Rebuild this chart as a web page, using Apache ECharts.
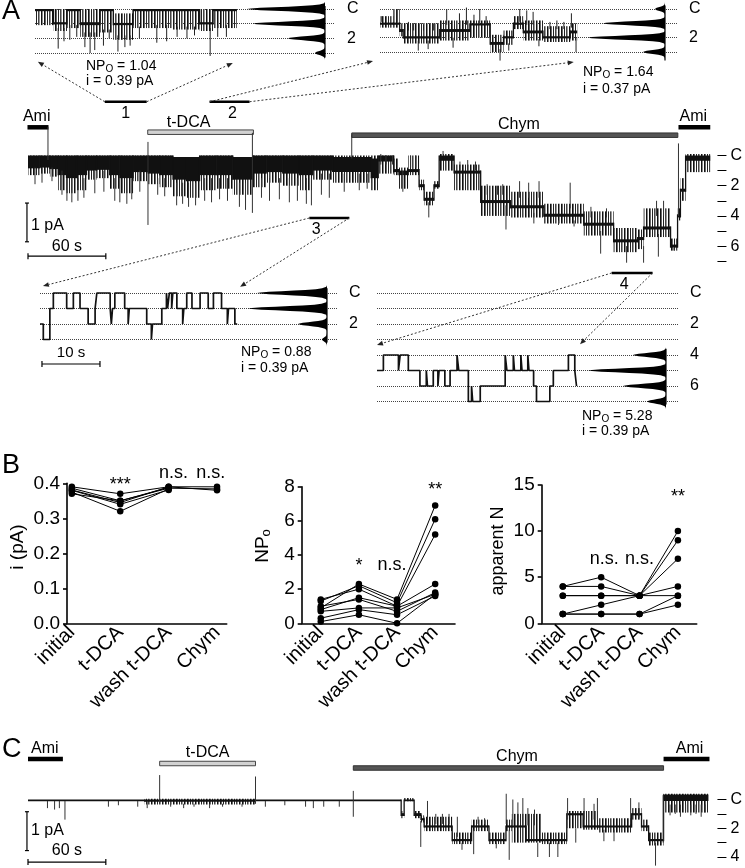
<!DOCTYPE html>
<html>
<head>
<meta charset="utf-8">
<title>Single-channel recordings</title>
<script src="https://cdn.jsdelivr.net/npm/echarts@6.0.0/dist/echarts.min.js"></script>
<style>
html,body{margin:0;padding:0;background:#fff;}
#chart{width:745px;height:868px;}
</style>
</head>
<body>
<div id="chart"></div>
<script>
// ======================= DATA =======================
// ---- Panel B ----
const categories = ['initial', 't-DCA', 'wash t-DCA', 'Chym'];
const iValues = [            // single-channel current i (pA), one row per patch
  [0.390, 0.370, 0.390, 0.390],
  [0.386, 0.350, 0.386, 0.384],
  [0.381, 0.345, 0.390, 0.380],
  [0.380, 0.340, 0.381, null],
  [0.375, 0.320, 0.384, null],
  [0.370, 0.350, 0.388, null]
];
const npoValues = [          // NPo
  [0.9, 2.3, 1.4, 6.9],
  [1.3, 2.2, 1.2, 6.1],
  [1.4, 2.0, 1.0, 5.2],
  [0.8, 1.5, 1.0, 2.3],
  [1.0, 1.4, 0.7, 1.8],
  [0.7, 0.9, 0.9, 1.7],
  [0.3, 0.8, 0.5, 1.6],
  [0.1, 0.5, 0.0, 1.7]
];
const nValues = [            // apparent N
  [4, 5, 3, 10],
  [4, 4, 3, 9],
  [3, 3, 3, 7],
  [3, 3, 3, 4],
  [1, 2, 3, 3],
  [1, 1, 1, 3],
  [1, 1, 1, 2]
];
const sigMarks = [           // [plot, category position, value, text]
  [0, 1, 0.395, '***'], [0, 2.1, 0.429, 'n.s.'], [0, 2.87, 0.429, 'n.s.'],
  [1, 1, 3.36, '*'], [1, 1.87, 3.41, 'n.s.'], [1, 3, 7.8, '**'],
  [2, 1.08, 6.97, 'n.s.'], [2, 2.0, 6.97, 'n.s.'], [2, 3, 13.7, '**']
];

// ---- Panel A main trace (time s, level = open channels, C = 0) ----
// bands: [t0, t1, flicker upper, flicker lower, dwell upper, dwell lower] (levels)
const mainBands = [
  [0,9.2,0,1.3,0,0.85],[9.2,16.9,0,1.2,0,0.8],[16.9,23.3,0,1.4,0,0.9],[23.3,29.7,0,2.3,0,1.3],
  [29.7,37.4,0,2.5,0,1.5],[37.4,45.1,0,2.3,0,1.3],[45.1,52.8,0,1.6,0,1.0],[52.8,63,0,1.5,0,0.95],
  [63,70.8,0,2.2,0,1.3],[70.8,81,0,2.5,0,1.5],[81,92.6,0,1.7,0,1.1],[92.6,101.5,0,1.9,0,1.2],
  [101.5,111.8,0,2.1,0,1.3],[111.8,122.1,0.1,2.7,0.1,1.6],[122.1,132.3,0.1,2.8,0.1,1.7],
  [132.3,145.1,0,2.3,0,1.3],[145.1,157.9,0,2.2,0,1.3],[157.9,173.3,0.1,2.6,0.1,1.6],
  [173.3,183.6,0,2.1,0,1.2],[183.6,196.4,0,1.8,0,1.1],[196.4,209.2,0,2.0,0,1.2],
  [209.2,219.5,0,2.3,0,1.3],[219.5,234.9,0,1.6,0,1.0],[234.9,264.6,0,1.8,0.1,1.1],
  [264.6,270,0,2.3,0.2,1.5],
  [270,282,0,1.2,0,0.4],[282,286,0.2,1.3,0.9,1.1],[286,293,0.8,2.2,1.0,1.3],[293,301.5,0,1.3,0.9,1.1],
  [301.5,305.4,1.6,2.3,1.9,2.1],[305.4,313,2.4,3.3,2.8,3.0],[313,317,1.7,2.2,1.9,2.1],
  [317,328.5,-0.1,1.0,0,0.35],[328.5,349,0.6,2.3,1.0,1.2],[349,372,2.0,4.0,2.95,3.15],
  [372,397.7,2.4,4.1,3.3,3.5],[397.7,428.5,3.2,4.5,3.85,4.05],[428.5,451.5,3.7,5.3,4.45,4.65],
  [451.5,470,4.8,6.4,5.55,5.75],[470,474.6,4.9,6.2,5.4,5.6],[474.6,495.4,3.5,5.4,4.7,4.9],
  [495.4,500.8,5.5,6.3,5.9,6.1],[500.8,503,3.5,4.3,3.9,4.1],[503,507,1.5,3.0,2.2,2.4],
  [507,526,-0.1,1.1,0,0.35]
];
// spikes: [t, from level, to level]
const mainSpikes = [
  [15.4,-1.9,0.3],[92.5,-0.9,4.6],[173,-1.5,3.8],[249.6,-1.4,0.2],[501.5,-0.8,4.0],
  [5.4,0.8,1.9],[10.8,0.8,1.8],[18.5,0.8,1.7],[26.2,1,2.6],[30,1.5,3.0],[33.8,1.5,3.1],[38.5,1.5,3.0],
  [43.1,1.5,2.8],[51.5,1,2.5],[58.5,1,2.4],[66.9,1.5,3.0],[70.8,1.5,3.1],[76.2,1.5,3.2],[80,1.5,2.9],
  [86.2,1,2.4],[100,1.5,2.6],[105.4,1.5,2.7],[114.6,1.8,3.3],[119.2,1.8,3.2],[123.8,1.8,3.4],
  [129.2,1.8,3.3],[136.2,1.5,3.0],[141.5,1.5,3.1],[147.7,1.5,2.9],[153.8,1.5,3.0],[163,1.8,3.4],
  [167.7,1.8,3.6],[180,1.5,2.8],[186.2,1.5,3.0],[193.8,1.5,2.9],[201.5,1.5,3.1],[207.7,1.5,3.0],
  [214.6,1.5,3.2],[218.5,1.5,3.3],[226.2,1.2,2.6],[232.3,1.2,2.8],[243.8,1.2,2.4],[255.4,1.2,2.3],
  [261.5,1.2,2.2],
  [272,0.6,-0.1],[276,0.6,0],[281,0.6,0],[289,1,2.4],[295,0.8,0],[299,0.8,0],[309,3.1,4.1],
  [320,0,-0.3],[333,1,0.4],[339,1,0.3],[345,1,0.4],[354,2.6,1.9],[362,2.6,2.0],[366,2.6,1.9],
  [368.5,3.3,4.9],[379,2.8,1.7],[386,2.8,1.8],[390,3.8,4.5],[394,2.8,1.7],[409,4.3,4.6],
  [418,3.5,1.8],[421,4.3,4.7],[434,4.1,3.4],[441.5,5.0,6.5],[446,4.1,3.5],[461.5,6.0,7.1],
  [474.6,6.0,7.1],[484.6,4.0,3.0],[486,5.2,6.7],[490,4.0,3.0],[498,6.1,6.3]
];

// ---- Inset 1 (segment 1) ----
const ins1Bands = [
  [0,3.2,0,1.1,0,0.15],[3.2,5.5,0,1.5,0.9,1.05],[5.5,7.8,0,1.3,0,0.15],[7.8,11.2,0,1.9,0.9,1.1],
  [11.2,13.5,0,1.6,0,0.15],[13.5,16.9,0.3,2.1,0.95,1.1],[16.9,19.3,0,1.3,0,0.15],[19.3,23.8,0,1.3,0,0.15],
  [23.8,28.4,0,1.4,0,0.15],[28.4,30.7,0,1.5,0.9,1.05],[30.7,34.8,0,1.3,0,0.15]
];
const ins1Spikes = [
  [4,1.3,2.7],[5,1.3,2.2],[6,1.1,2.1],[7.2,1.1,1.9],[8.6,1.6,2.6],[9.5,1.6,3.0],[10.3,1.6,2.8],
  [11.8,1.4,2.5],[12.8,1.4,2.0],[14.3,1.8,2.9],[15.5,1.8,2.6],[16.4,1.8,2.5],[18,1.2,2.0],
  [21,1.1,2.3],[22.7,1.1,2.2],[24.5,1.2,1.9],[26.2,1.2,2.0],[27.5,1.2,1.8],[30.2,1.3,3.2],
  [31.5,1.1,1.9],[33,1.1,1.9]
];
const ins1Hist = [78, 72, 37, 10];       // levels C,1,2,3

// ---- Inset 2 (segment 2) ----
const ins2Bands = [
  [0,2.3,0.5,1.3,0.95,1.1],[2.3,3.4,0,1.3,0.95,1.1],[3.4,4,1.0,1.9,1.4,1.6],[4,10.3,1.0,2.4,1.9,2.05],
  [10.3,15.5,0.8,2.2,1.4,1.6],[15.5,19,0.8,2.0,1.0,1.15],[19,21.3,1.8,3.0,2.3,2.5],[21.3,23,1.5,2.5,1.9,2.05],
  [23,24.7,0.5,1.4,0.95,1.1],[24.7,28.1,0.8,2.2,1.5,1.7],[28.1,32.8,1.2,2.3,1.9,2.05],[32.8,34,1.0,2.2,1.5,1.7]
];
const ins2Spikes = [
  [0.3,0.9,0.5],[2.9,0.9,0],[4.9,1.5,0.9],[5.8,1.5,1.0],[6.6,2.2,2.9],[7.5,1.5,1.1],[8.3,2.2,2.8],
  [9.2,1.5,1.0],[11.5,1.1,0],[12.6,2.0,2.7],[13.7,1.1,0.3],[14.9,1.1,-0.1],[16.2,1.0,0.4],
  [17.2,1.0,0],[18.3,1.0,0.5],[20.7,2.8,3.6],[22.2,2.4,2.9],[24.1,0.9,0],[25.3,1.1,0.1],
  [26.4,1.1,0.2],[27.4,2.1,2.6],[29.3,1.4,0.9],[30.5,1.4,0.8],[31.7,1.4,0.9],[33,1.3,0.3],[33.8,2.0,3.0]
];
const ins2Hist = [10, 62, 77, 22];

// ---- Inset 3 (segment 3), step trace ----
const ins3Time  = [0,0.57,1.7,2.3,4.6,5.75,6.9,8.3,9.5,9.8,12.1,12.3,12.5,12.9,14.6,15.2,15.4,18.4,19.2,19.4,21.0,21.8,22.0,22.3,22.7,22.9,23.6,24.6,24.8,25.3,26.2,27.6,29.0,29.9,31.3,32.3,32.5,33.6,34.0];
const ins3Level = [2,3,1,0,1,0,1,2,1,0,1,2,1,0,1,2,1,2,3,2,1,0,1,0,1,0,1,2,1,0,1,0,1,0,1,2,1,2,2];
const ins3Hist = [70, 79, 29, 5];

// ---- Inset 4 (segment 4), step trace ----
const ins4Time  = [0,1.1,3.7,4.0,5.4,7.4,8.5,8.7,9.7,10.5,10.7,11.7,12.6,13.8,14.1,15.75,16.3,16.5,17.8,22.1,22.4,23.5,23.7,24.8,25.0,26.0,26.2,27.0,27.5,29.8,30.4,32.1,33.0,34.1,34.4];
const ins4Level = [5,4,5,4,5,6,5,6,5,6,5,6,5,4,5,7,6,7,6,4,5,4,5,4,5,4,5,6,7,6,5,5,4,5,6];
const ins4Hist = [33, 78, 43, 19];       // levels 4,5,6,7

// ---- Panel C trace ----
const cBands = [
  [0,90,0,0.12,0,0.12],[90,175,-0.05,0.35,0,0.15],[175,287.7,0,0.12,0,0.12],[287.7,290,0.8,1.3,0.95,1.15],
  [290,297.7,-0.1,0.12,0,0.12],[297.7,303,0.8,1.3,0.95,1.15],[303,305.4,1.1,1.6,1.3,1.45],
  [305.4,327,1.2,2.2,1.8,1.95],[327,342,2.3,3.1,2.75,2.9],[342,355.4,1.4,2.2,1.8,1.95],
  [355.4,368.5,2.3,3.1,2.75,2.9],[368.5,373,1.4,2.2,1.8,1.95],[373,384,1.0,3.0,1.8,1.95],
  [384,396,1.0,3.0,2.75,2.9],[396,415.4,2.3,3.1,2.75,2.9],[415.4,428,0.8,2.0,0.95,1.1],
  [428,440,0.8,2.1,1.8,1.95],[440,465.4,1.3,2.3,1.8,1.95],[465.4,473,0.6,1.4,0.95,1.1],
  [473,478.5,1.4,2.2,1.8,1.95],[478.5,490,2.3,3.2,2.75,2.9],[490,524.6,-0.4,0.9,-0.35,0.1]
];
const cSpikes = [
  [15,0.1,0.6],[20.5,0.1,0.7],[24.2,0.1,0.6],[28.5,0.1,1.4],[62,0.1,0.5],[69.7,0.1,0.4],[84.6,0.1,0.5],
  [91.9,0.1,0.6],[101.5,-1.7,0.3],[110,0.3,0.5],[120,0.3,0.6],[128,0.3,0.5],[140,0.3,0.6],[150,0.3,0.5],
  [165,0.3,0.5],[175.4,-1.6,0.3],[183,0.1,0.5],[198,0.1,0.4],[214,0.1,0.5],[220,0.1,0.6],[228,0.1,0.5],
  [240,0.1,0.5],[250.8,-0.6,1.2],
  [302.8,1.5,3.3],[308,1.7,0.1],[314.4,1.7,1.0],[319.5,1.7,1.0],[324.6,1.7,1.0],[331,2.6,1.2],
  [334.6,3.0,3.5],[343.6,2.1,3.8],[347,1.7,1.2],[352,1.7,1.3],[361,3.0,3.4],[368.7,1.7,-0.4],
  [371,2.1,4.2],[373.8,1.8,0.0],[377.7,1.8,0.2],[381.5,1.8,-0.1],[385.4,1.8,0.6],[390.5,1.8,0.7],
  [393,3.0,4.0],[402,3.0,4.0],[408.5,3.0,4.0],[416,1.4,-0.1],[422.3,2.0,3.0],[428.7,1.4,-0.1],
  [436.4,1.4,0.3],[439,1.4,-0.1],[444,2.1,2.9],[451.8,2.1,2.9],[464.6,1.7,-0.1],[471,1.3,0.2],
  [483.8,3.0,4.6],[489.7,3.0,-0.3],
  [495,0.35,1.1],[499,0.35,1.0],[503,0.35,1.2],[507,0.35,0.9],[511,0.35,1.1],[515,0.35,1.0],[519,0.35,1.2],[522,0.35,0.9]
];

// ---- Annotation data (times on the trace axes) ----
const drugA = [['Ami', -0.4, 15.8], ['t-DCA', 92.3, 173.8], ['Chym', 249.6, 501], ['Ami', 501.5, 526]];
const drugC = [['Ami', 0, 26.9], ['t-DCA', 101.5, 175.4], ['Chym', 250.8, 490], ['Ami', 490, 525.4]];
const zoomBars = [[59.2, 91.5], [140, 170.8], [216.9, 247.7], [450, 481.5]];
const zoomLabels = ['1', '2', '3', '4'];
const npoText = ['1.04', '1.64', '0.88', '5.28'];
const iText = ['0.39', '0.37', '0.39', '0.39'];
const singleI = {A: 0.39, C: 0.37};      // pA per channel level
const levelLabel = v => (v === 0 ? 'C' : (v % 2 === 0 ? String(v) : ''));

// ======================= LAYOUT / STYLE =======================
const FONT = '"Liberation Sans", Arial, Helvetica, sans-serif';
const grids = [
  {left: 28, top: 155.5, width: 689, height: 105.7},     // 0 main trace A
  {left: 35, top: 9, width: 300, height: 44},            // 1 inset 1
  {left: 235, top: 9, width: 90, height: 44},            // 2 inset 1 histogram
  {left: 380, top: 9, width: 297, height: 43},           // 3 inset 2
  {left: 575, top: 9, width: 90, height: 43},            // 4 inset 2 histogram
  {left: 40, top: 293, width: 297, height: 46.5},        // 5 inset 3
  {left: 237, top: 293, width: 90, height: 46.5},        // 6 inset 3 histogram
  {left: 377, top: 293, width: 301, height: 108.5},      // 7 inset 4
  {left: 576, top: 293, width: 90, height: 108.5},       // 8 inset 4 histogram
  {left: 67, top: 483.3, width: 159.7, height: 140},     // 9 B i
  {left: 301.7, top: 486.7, width: 153.3, height: 136.6},// 10 B NPo
  {left: 541.7, top: 485, width: 155, height: 138.3},    // 11 B apparent N
  {left: 28, top: 799.5, width: 689, height: 57.5}       // 12 trace C
];
const PEAK = [[-0.5,0],[-0.4,0.01],[-0.3,0.07],[-0.25,0.16],[-0.2,0.31],[-0.16,0.47],[-0.12,0.65],[-0.08,0.83],[-0.04,0.95],[0,1],
              [0.04,0.95],[0.08,0.83],[0.12,0.65],[0.16,0.47],[0.2,0.31],[0.25,0.16],[0.3,0.07],[0.4,0.01],[0.5,0]];
// dense-flicker texture (irregular vertical hairlines)
const flickerCanvas = document.createElement('canvas');
flickerCanvas.width = 11; flickerCanvas.height = 4;
(function () {
  const c = flickerCanvas.getContext('2d');
  [[0, '#111'], [1, '#666'], [3, '#222'], [5, '#444'], [6, '#999'], [8, '#111'], [9, '#888']].forEach(([x, col]) => {
    c.fillStyle = col; c.fillRect(x, 0, 1, 4);
  });
})();
const FLICKER = {image: flickerCanvas, repeat: 'repeat'};

const xAxes = [], yAxes = [], series = [];
function traceAxes(gi, xmax, ymax, framed) {
  xAxes.push({gridIndex: gi, type: 'value', min: 0, max: xmax, show: false});
  yAxes.push({gridIndex: gi, type: 'value', min: 0, max: ymax, interval: 1, inverse: true, position: 'right',
    offset: framed ? 0 : 2,
    axisLine: {show: false, onZero: false},
    axisTick: {show: !framed, length: 9, lineStyle: {color: '#000', width: 1}},
    axisLabel: {formatter: levelLabel, margin: framed ? 12 : 13, fontSize: 16, color: '#000', fontFamily: FONT},
    splitLine: {show: framed, lineStyle: {type: 'dotted', color: '#444', width: 1}}});
}
function histAxes(gi, xmax, ymax) {
  xAxes.push({gridIndex: gi, type: 'value', min: 0, max: xmax, inverse: true, show: false});
  yAxes.push({gridIndex: gi, type: 'value', min: 0, max: ymax, inverse: true, show: false});
}
function bAxes(gi, xmin, xmax, ymax, yint, fmt) {
  xAxes.push({gridIndex: gi, type: 'value', min: xmin, max: xmax,
    axisLine: {show: true, onZero: false, lineStyle: {color: '#000', width: 1.6}},
    axisTick: {show: false}, splitLine: {show: false},
    axisLabel: {customValues: [0, 1, 2, 3], formatter: v => categories[Math.round(v)], rotate: 45,
      fontSize: 20, color: '#000', margin: 6, fontFamily: FONT}});
  yAxes.push({gridIndex: gi, type: 'value', min: 0, max: ymax, interval: yint,
    axisLine: {show: true, onZero: false, lineStyle: {color: '#000', width: 1.6}},
    axisTick: {show: true, length: 4, lineStyle: {color: '#000', width: 1.6}},
    axisLabel: {formatter: fmt, fontSize: 19, color: '#000', margin: 7, fontFamily: FONT},
    splitLine: {show: false}});
}
traceAxes(0, 530, 7, false);
traceAxes(1, 300 / 5.8, 3, true);  histAxes(2, 90, 3);
traceAxes(3, 297 / 5.8, 3, true);  histAxes(4, 90, 3);
traceAxes(5, 297 / 5.8, 3, true);  histAxes(6, 90, 3);
traceAxes(7, 301 / 5.8, 7, true);  histAxes(8, 90, 7);
bAxes(9, -0.1, 3.2, 0.4, 0.1, v => v.toFixed(1));
bAxes(10, -0.5, 3.52, 8, 2, v => String(v));
bAxes(11, -0.55, 3.49, 15, 5, v => String(v));
traceAxes(12, 530, 4, false);

function bandSeries(ai, bands, color) {
  return {type: 'custom', xAxisIndex: ai, yAxisIndex: ai, data: bands, encode: {x: [0, 1], y: [2, 3]},
    clip: false, silent: true,
    renderItem: (params, api) => {
      const i = params.dataIndex;
      const t0 = api.value(0), t1 = api.value(1);
      const f0 = api.coord([t0, api.value(2)]), f1 = api.coord([t1, api.value(3)]);
      const c0 = api.coord([t0, api.value(4)]), c1 = api.coord([t1, api.value(5)]);
      const ch = [];
      if (api.value(3) - api.value(2) > api.value(5) - api.value(4) + 0.01) {
        ch.push({type: 'rect', shape: {x: f0[0], y: f0[1], width: Math.max(f1[0] - f0[0], 1), height: Math.max(f1[1] - f0[1], 1)},
          style: {fill: FLICKER}});
      }
      ch.push({type: 'rect', shape: {x: c0[0], y: c0[1], width: Math.max(c1[0] - c0[0], 1), height: Math.max(c1[1] - c0[1], 1.5)},
        style: {fill: color}});
      if (i > 0) {
        const pb = bands[i - 1];
        const a = api.coord([t0, Math.min(pb[4], api.value(4))]);
        const c = api.coord([t0, Math.max(pb[5], api.value(5))]);
        ch.push({type: 'line', shape: {x1: a[0], y1: a[1], x2: c[0], y2: c[1]}, style: {stroke: color, lineWidth: 1.3}});
      }
      return {type: 'group', children: ch};
    }};
}
function spikeSeries(ai, spikes, color, w) {
  return {type: 'custom', xAxisIndex: ai, yAxisIndex: ai, data: spikes, encode: {x: 0, y: [1, 2]},
    clip: false, silent: true,
    renderItem: (params, api) => {
      const a = api.coord([api.value(0), api.value(1)]);
      const b = api.coord([api.value(0), api.value(2)]);
      return {type: 'line', shape: {x1: a[0], y1: a[1], x2: b[0], y2: b[1]}, style: {stroke: color, lineWidth: w}};
    }};
}
function histSeries(ai, firstLevel, counts, lineFrom, lineTo) {
  series.push({type: 'custom', xAxisIndex: ai, yAxisIndex: ai, silent: true, clip: false,
    data: counts.map((n, k) => [firstLevel + k, n]), encode: {x: 1, y: 0},
    renderItem: (params, api) => {
      const L = api.value(0), n = api.value(1);
      return {type: 'polygon', shape: {points: PEAK.map(([d, f]) => api.coord([n * f, L + d]))}, style: {fill: '#000'}};
    }});
  series.push({type: 'line', xAxisIndex: ai, yAxisIndex: ai, silent: true, clip: false, symbol: 'none',
    data: [[0, lineFrom], [0, lineTo]], lineStyle: {color: '#000', width: 1.2}});
}
function stepSeries(ai, T, L) {
  series.push({type: 'line', xAxisIndex: ai, yAxisIndex: ai, step: 'end', symbol: 'none', silent: true, clip: false,
    data: T.map((t, k) => [t, L[k]]), lineStyle: {color: '#111', width: 1.7}});
}
function bSeries(ai, rows) {
  rows.forEach(r => series.push({type: 'line', xAxisIndex: ai, yAxisIndex: ai, silent: true,
    data: r.map((v, k) => [k, v]).filter(d => d[1] !== null),
    symbol: 'circle', symbolSize: 6.5, itemStyle: {color: '#000'}, lineStyle: {color: '#000', width: 1}}));
}

series.push(bandSeries(0, mainBands, '#111'), spikeSeries(0, mainSpikes, '#333', 1));
series.push(bandSeries(1, ins1Bands, '#111'), spikeSeries(1, ins1Spikes, '#222', 1));
histSeries(2, 0, ins1Hist, -0.2, 3.3);
series.push(bandSeries(3, ins2Bands, '#111'), spikeSeries(3, ins2Spikes, '#222', 1));
histSeries(4, 0, ins2Hist, -0.25, 3.6);
stepSeries(5, ins3Time, ins3Level);
histSeries(6, 0, ins3Hist, -0.3, 3.2);
stepSeries(7, ins4Time, ins4Level);
histSeries(8, 4, ins4Hist, 3.6, 7.2);
bSeries(9, iValues);
bSeries(10, npoValues);
bSeries(11, nValues);
series.push(bandSeries(12, cBands, '#111'), spikeSeries(12, cSpikes, '#333', 1));

const chart = echarts.init(document.getElementById('chart'), null, {renderer: 'canvas', width: 745, height: 868});
chart.setOption({
  animation: false,
  backgroundColor: '#fff',
  textStyle: {fontFamily: FONT},
  grid: grids,
  xAxis: xAxes,
  yAxis: yAxes,
  series: series
});

// ======================= ANNOTATIONS =======================
const P = (g, x, y) => chart.convertToPixel({gridIndex: g}, [x, y]);
const G = [];
function txt(x, y, s, size, align, extra) {
  G.push(Object.assign({type: 'text', x: x, y: y, silent: true,
    style: {text: s, fontSize: size, fontFamily: FONT, fill: '#000', align: align || 'center', verticalAlign: 'middle'}}, extra || {}));
}
function line(x1, y1, x2, y2, w, color, dash) {
  G.push({type: 'line', silent: true, shape: {x1, y1, x2, y2},
    style: {stroke: color || '#000', lineWidth: w || 1, lineDash: dash || null}});
}
function arrow(p0, p1) {
  const dx = p1[0] - p0[0], dy = p1[1] - p0[1], len = Math.hypot(dx, dy), ux = dx / len, uy = dy / len;
  const hl = 6, hw = 2.4, bx = p1[0] - ux * hl, by = p1[1] - uy * hl;
  line(p0[0], p0[1], bx, by, 1, '#333', [2, 2]);
  G.push({type: 'polygon', silent: true, shape: {points: [p1, [bx - uy * hw, by + ux * hw], [bx + uy * hw, by - ux * hw]]},
    style: {fill: '#222'}});
}
function richNPo(x, y, val) {
  G.push({type: 'text', x: x, y: y, silent: true, style: {
    text: '{n|NP}{s|O}{n| = ' + val + '}', align: 'left', verticalAlign: 'middle',
    rich: {n: {fontSize: 14, fontFamily: FONT, fill: '#000', lineHeight: 16},
           s: {fontSize: 10, fontFamily: FONT, fill: '#000', lineHeight: 10, verticalAlign: 'bottom'}}}});
}

// panel letters
txt(2, 12, 'A', 27, 'left');
txt(2, 466, 'B', 27, 'left');
txt(2, 750, 'C', 27, 'left');

// drug application bars
const drugStyle = {
  'Ami': {fill: '#000', h: 4.5},
  't-DCA': {fill: '#d2d2d2', stroke: '#444', h: 4.5},
  'Chym': {fill: '#555', stroke: '#333', h: 4.5}
};
function drugBars(gi, list, barY, labT, labY) {
  list.forEach((d, k) => {
    const x0 = P(gi, d[1], 0)[0], x1 = P(gi, d[2], 0)[0], st = drugStyle[d[0]];
    G.push({type: 'rect', silent: true, shape: {x: x0, y: barY[k] - st.h / 2, width: x1 - x0, height: st.h},
      style: {fill: st.fill, stroke: st.stroke || null, lineWidth: st.stroke ? 1 : 0}});
    txt(P(gi, labT[k], 0)[0], labY[k], d[0], 16);
  });
}
drugBars(0, drugA, [127.3, 132.2, 135.2, 127.3], [6.7, 123.8, 378.5, 513], [116.5, 122.5, 124.5, 117]);
drugBars(12, drugC, [759, 763.5, 768, 759], [13, 138.5, 377, 510], [749, 752.5, 757, 749]);

// zoom segment bars + arrows to the insets
const zoomBarLevel = [-3.56, -3.56, 4.14, 7.78];
const zoomLabelDx = [0, 3, -13, -8];
const insetGrid = [1, 3, 5, 7];
const arrowEnds = [[[0.5, 3.6], [34.1, 3.68]], [[-1.2, 3.63], [33.4, 3.7]], [[0.5, -0.45], [34.5, -0.4]], [[0, 3.35], [35, 3.3]]];
zoomBars.forEach((b, k) => {
  const p0 = P(0, b[0], zoomBarLevel[k]), p1 = P(0, b[1], zoomBarLevel[k]);
  line(p0[0], p0[1], p1[0], p1[1], 2.5, '#000');
  txt((p0[0] + p1[0]) / 2 + zoomLabelDx[k], p0[1] + 12, zoomLabels[k], 16);
  arrow(p0, P(insetGrid[k], arrowEnds[k][0][0], arrowEnds[k][0][1]));
  arrow(p1, P(insetGrid[k], arrowEnds[k][1][0], arrowEnds[k][1][1]));
});

// NPo / i annotations
const npoPos = [[86, 66, 81], [583, 72.5, 89], [241, 352, 368], [582, 416, 431]];
npoPos.forEach((p, k) => {
  richNPo(p[0], p[1], npoText[k]);
  txt(p[0], p[2], 'i = ' + iText[k] + ' pA', 14, 'left');
});

// scale bars
function vScale(gi, t, l0, l1, label, lx, ly) {
  const a = P(gi, t, l0), b = P(gi, t, l1);
  line(a[0], a[1], b[0], b[1], 1.2);
  line(a[0] - 2, a[1], a[0] + 2, a[1], 1.2);
  line(b[0] - 2, b[1], b[0] + 2, b[1], 1.2);
  txt(lx, ly, label, 16, 'left');
}
function hScale(gi, t0, t1, l, label, ly, size) {
  const a = P(gi, t0, l), b = P(gi, t1, l);
  line(a[0], a[1], b[0], b[1], 1.2);
  line(a[0], a[1] - 3, a[0], a[1] + 3, 1.2);
  line(b[0], b[1] - 3, b[0], b[1] + 3, 1.2);
  txt((a[0] + b[0]) / 2, ly, label, size);
}
vScale(0, -0.8, 3.15, 3.15 + 1 / singleI.A, '1 pA', 31, 226);
hScale(0, 0, 60, 6.67, '60 s', 247, 16);
hScale(5, 0.34, 10.34, 4.58, '10 s', 353, 15);
vScale(12, -0.8, 0.85, 0.85 + 1 / singleI.C, '1 pA', 31, 831);
hScale(12, 0, 60, 4.35, '60 s', 851, 16);

// panel B: significance marks and axis titles
sigMarks.forEach(m => {
  const p = P(9 + m[0], m[1], m[2]);
  txt(p[0], p[1], m[3], 18);
});
txt(18, 547, 'i (pA)', 19, 'center', {rotation: Math.PI / 2});
G.push({type: 'text', x: 263, y: 546, rotation: Math.PI / 2, silent: true, style: {
  text: '{n|NP}{s|o}', align: 'center', verticalAlign: 'middle',
  rich: {n: {fontSize: 19, fontFamily: FONT, fill: '#000', lineHeight: 20},
         s: {fontSize: 13, fontFamily: FONT, fill: '#000', lineHeight: 12, verticalAlign: 'bottom'}}}});
txt(498, 551, 'apparent N', 18, 'center', {rotation: Math.PI / 2});

chart.setOption({graphic: G});
</script>
</body>
</html>
